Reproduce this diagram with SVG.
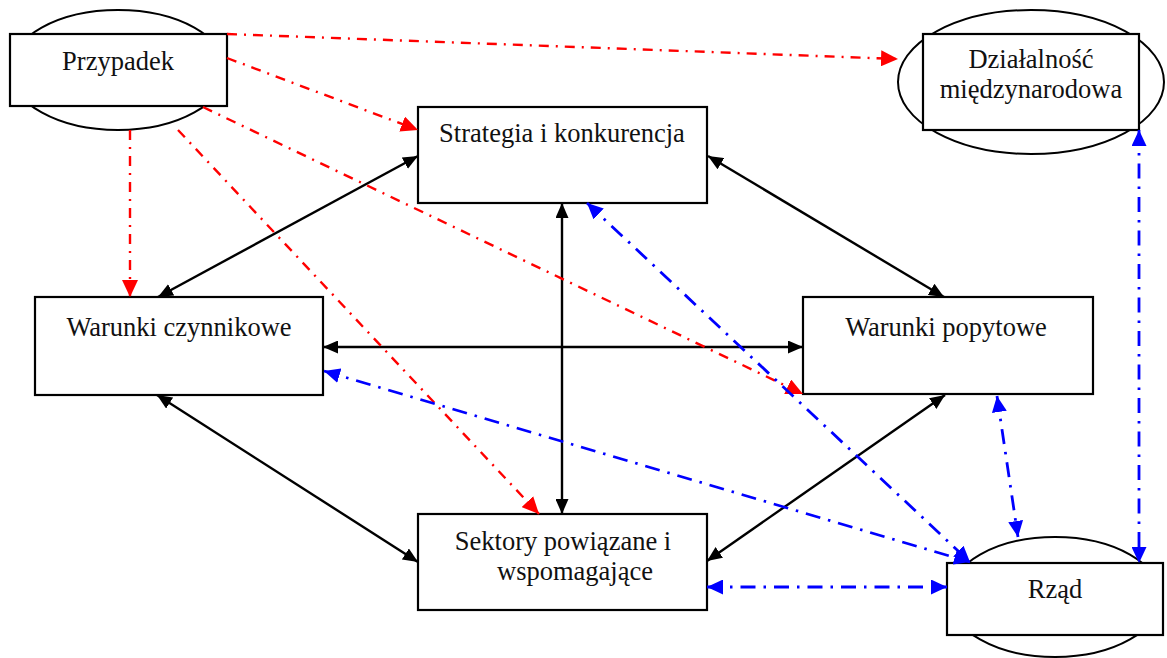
<svg xmlns="http://www.w3.org/2000/svg" width="1167" height="658" viewBox="0 0 1167 658">
  <style>
    .box { fill: #ffffff; stroke: #000000; stroke-width: 2.2; }
    .oval { fill: #ffffff; stroke: #000000; stroke-width: 2; }
    .label { font-family: "Liberation Serif", "Times New Roman", serif; font-size: 26.5px; fill: #111111; text-anchor: middle; }
    .solid { fill: none; stroke: #000000; stroke-width: 2.4; marker-start: url(#headBlack); marker-end: url(#headBlack); }
    .chance { fill: none; stroke: #ff0000; stroke-width: 2.4; stroke-dasharray: 10 7 2 7; marker-end: url(#headRed); }
    .gov { fill: none; stroke: #0000ff; stroke-width: 2.8; stroke-dasharray: 15 8 2.5 8; marker-start: url(#headBlue); marker-end: url(#headBlue); }
  </style>
  <defs>
    <marker id="headBlack" viewBox="0 0 15 13" refX="15" refY="6.5" markerWidth="15" markerHeight="13" markerUnits="userSpaceOnUse" orient="auto-start-reverse">
      <path d="M0,0 L15,6.5 L0,13 z" fill="#000000"/>
    </marker>
    <marker id="headRed" viewBox="0 0 17 16" refX="17" refY="8" markerWidth="17" markerHeight="16" markerUnits="userSpaceOnUse" orient="auto-start-reverse">
      <path d="M0,0 L17,8 L0,16 z" fill="#ff0000"/>
    </marker>
    <marker id="headBlue" viewBox="0 0 16 15" refX="16" refY="7.5" markerWidth="16" markerHeight="15" markerUnits="userSpaceOnUse" orient="auto-start-reverse">
      <path d="M0,0 L16,7.5 L0,15 z" fill="#0000ff"/>
    </marker>
  </defs>

  <rect width="1167" height="658" fill="#ffffff"/>

  <!-- outer nodes: rectangle set on an ellipse -->
  <g id="przypadek">
    <ellipse class="oval" cx="118" cy="70" rx="108" ry="60"/>
    <rect class="box" x="10" y="34" width="217" height="72"/>
    <text class="label" x="118" y="70">Przypadek</text>
  </g>

  <g id="dzialalnosc">
    <ellipse class="oval" cx="1031" cy="82" rx="133" ry="72"/>
    <rect class="box" x="923" y="34" width="216" height="96"/>
    <text class="label" x="1031" y="68">Działalność</text>
    <text class="label" x="1031" y="98">międzynarodowa</text>
  </g>

  <g id="rzad">
    <ellipse class="oval" cx="1055" cy="597" rx="106" ry="60"/>
    <rect class="box" x="947" y="563" width="216" height="72"/>
    <text class="label" x="1055" y="598">Rząd</text>
  </g>

  <!-- diamond nodes -->
  <g id="strategia">
    <rect class="box" x="418" y="107" width="289" height="96"/>
    <text class="label" x="562" y="142">Strategia i konkurencja</text>
  </g>

  <g id="czynnikowe">
    <rect class="box" x="35" y="297" width="288" height="98"/>
    <text class="label" x="179" y="336">Warunki czynnikowe</text>
  </g>

  <g id="popytowe">
    <rect class="box" x="803" y="297" width="290" height="97"/>
    <text class="label" x="946" y="336">Warunki popytowe</text>
  </g>

  <g id="sektory">
    <rect class="box" x="418" y="514" width="289" height="96"/>
    <text class="label" x="563" y="550">Sektory powiązane i</text>
    <text class="label" x="575" y="580">wspomagające</text>
  </g>

  <g id="connectors">
    <!-- links between the four determinants -->
    <line class="solid" x1="418" y1="156" x2="158" y2="297"/>
    <line class="solid" x1="708" y1="156" x2="944" y2="297"/>
    <line class="solid" x1="562" y1="203" x2="562" y2="514"/>
    <line class="solid" x1="323" y1="347" x2="803" y2="347"/>
    <line class="solid" x1="157" y1="395" x2="418" y2="562"/>
    <line class="solid" x1="945" y1="395" x2="707" y2="561"/>

    <!-- influence of chance -->
    <line class="chance" x1="227" y1="34" x2="898" y2="59"/>
    <line class="chance" x1="227" y1="58" x2="418" y2="130"/>
    <line class="chance" x1="130" y1="130" x2="130" y2="297"/>
    <line class="chance" x1="203" y1="107" x2="803" y2="394"/>
    <line class="chance" x1="178" y1="130" x2="539" y2="514"/>

    <!-- government links -->
    <line class="gov" x1="587" y1="203" x2="970" y2="562"/>
    <line class="gov" x1="324" y1="371" x2="970" y2="562"/>
    <line class="gov" x1="997" y1="396" x2="1018" y2="537"/>
    <line class="gov" x1="1139" y1="130" x2="1139" y2="563"/>
    <line class="gov" x1="707" y1="587" x2="947" y2="587"/>
  </g>
</svg>
